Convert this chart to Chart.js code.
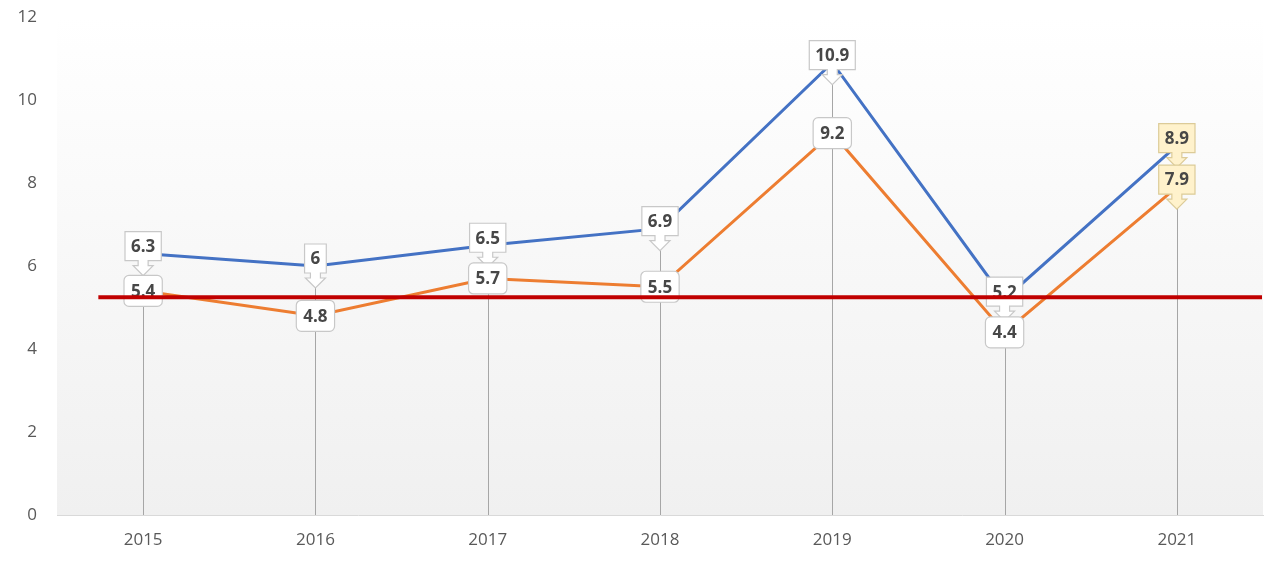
<!DOCTYPE html>
<html>
<head>
<meta charset="utf-8">
<script src="https://cdn.jsdelivr.net/npm/chart.js@4.4.1/dist/chart.umd.min.js"></script>
<style>
    body { margin: 0; background: #fff; }
</style>
</head>
<body>
<canvas id="lineCanvas" width="1280" height="563"></canvas>
<script>
var years = ["2015", "2016", "2017", "2018", "2019", "2020", "2021"];
var seriesBlue = [6.3, 6, 6.5, 6.9, 10.9, 5.2, 8.9];
var seriesOrange = [5.4, 4.8, 5.7, 5.5, 9.2, 4.4, 7.9];
var yTicks = [0, 2, 4, 6, 8, 10, 12];
var refLine = [5.25];
var highlightYears = ["2021"];

var labelFont = "bold 17px 'Open Sans'";

// callout box with arrow pointing down, whole shape centered on the point
function drawCallout(ctx, x, y, text, fill, stroke) {
    ctx.font = labelFont;
    var w = ctx.measureText(text).width + 12;
    var boxH = 29, shaft = 5, head = 10, sw = 5, hw = 10;
    var top = y - (boxH + shaft + head) / 2;
    var l = x - w / 2, r = x + w / 2, b = top + boxH;
    ctx.beginPath();
    ctx.moveTo(l, top);
    ctx.lineTo(r, top);
    ctx.lineTo(r, b);
    ctx.lineTo(x + sw, b);
    ctx.lineTo(x + sw, b + shaft);
    ctx.lineTo(x + hw, b + shaft);
    ctx.lineTo(x, b + shaft + head);
    ctx.lineTo(x - hw, b + shaft);
    ctx.lineTo(x - sw, b + shaft);
    ctx.lineTo(x - sw, b);
    ctx.lineTo(l, b);
    ctx.closePath();
    ctx.fillStyle = fill;
    ctx.fill();
    ctx.lineWidth = 1.2;
    ctx.strokeStyle = stroke;
    ctx.stroke();
    ctx.fillStyle = "#474747";
    ctx.textAlign = "center";
    ctx.textBaseline = "middle";
    ctx.fillText(text, x, top + boxH / 2 + 1);
}

function drawRoundBox(ctx, x, y, text) {
    ctx.font = labelFont;
    var w = ctx.measureText(text).width + 14;
    var h = 31, rad = 5;
    var l = x - w / 2, t = y - h / 2;
    ctx.beginPath();
    ctx.roundRect(l, t, w, h, rad);
    ctx.fillStyle = "#ffffff";
    ctx.fill();
    ctx.lineWidth = 1.2;
    ctx.strokeStyle = "#c8c8c8";
    ctx.stroke();
    ctx.fillStyle = "#474747";
    ctx.textAlign = "center";
    ctx.textBaseline = "middle";
    ctx.fillText(text, x, y + 1);
}

var decorPlugin = {
    id: "decor",
    beforeDraw: function(chart) {
        var ctx = chart.ctx, a = chart.chartArea;
        var grad = ctx.createLinearGradient(0, a.top, 0, a.bottom);
        grad.addColorStop(0, "#ffffff");
        grad.addColorStop(1, "#f0f0f0");
        ctx.save();
        ctx.fillStyle = grad;
        ctx.fillRect(a.left, a.top, a.right - a.left, a.bottom - a.top);
        ctx.restore();
    },
    beforeDatasetsDraw: function(chart) {
        // drop lines from highest point to the axis
        var ctx = chart.ctx, xs = chart.scales.x, ys = chart.scales.y;
        ctx.save();
        ctx.strokeStyle = "#a6a6a6";
        ctx.lineWidth = 1;
        for (var i = 0; i < years.length; i++) {
            var x = Math.round(xs.getPixelForValue(i)) + 0.5;
            var top = ys.getPixelForValue(Math.max(seriesBlue[i], seriesOrange[i]));
            ctx.beginPath();
            ctx.moveTo(x, top);
            ctx.lineTo(x, ys.getPixelForValue(0));
            ctx.stroke();
        }
        ctx.restore();
    },
    afterDatasetsDraw: function(chart) {
        var ctx = chart.ctx, xs = chart.scales.x, ys = chart.scales.y;
        ctx.save();
        for (var i = 0; i < years.length; i++) {
            var x = xs.getPixelForValue(i);
            var hot = highlightYears.indexOf(years[i]) >= 0;
            var fill = hot ? "#fff2cc" : "#ffffff";
            var stroke = hot ? "#dccb98" : "#c8c8c8";
            drawCallout(ctx, x, ys.getPixelForValue(seriesBlue[i]), String(seriesBlue[i]), fill, stroke);
            if (hot) {
                drawCallout(ctx, x, ys.getPixelForValue(seriesOrange[i]), String(seriesOrange[i]), fill, stroke);
            } else {
                drawRoundBox(ctx, x, ys.getPixelForValue(seriesOrange[i]), String(seriesOrange[i]));
            }
        }
        // red reference line
        var ry = ys.getPixelForValue(refLine[0]);
        var step = xs.getPixelForValue(1) - xs.getPixelForValue(0);
        ctx.strokeStyle = "#c00000";
        ctx.lineWidth = 4;
        ctx.beginPath();
        ctx.moveTo(xs.getPixelForValue(0) - step * 0.26, ry);
        ctx.lineTo(chart.chartArea.right - 1, ry);
        ctx.stroke();
        ctx.restore();
    }
};

var ctx = document.getElementById("lineCanvas");
var lineChart = new Chart(ctx, {
    type: "line",
    data: {
        labels: years,
        datasets: [{
            data: seriesBlue,
            borderColor: "#4472c4",
            borderWidth: 3,
            pointRadius: 0,
            tension: 0
        }, {
            data: seriesOrange,
            borderColor: "#ed7d31",
            borderWidth: 3,
            pointRadius: 0,
            tension: 0
        }]
    },
    options: {
        responsive: false,
        animation: false,
        layout: {
            autoPadding: false,
            padding: { top: 17, right: 17, left: 0, bottom: 0 }
        },
        plugins: {
            legend: { display: false },
            tooltip: { enabled: false }
        },
        scales: {
            x: {
                offset: true,
                grid: { display: false, drawTicks: false },
                border: { color: "#d9d9d9", width: 1 },
                ticks: {
                    color: "#595959",
                    font: { family: "'Open Sans'", size: 17 },
                    padding: 15,
                    maxRotation: 0
                },
                afterFit: function(scale) {
                    scale.height = 48;
                    scale.paddingLeft = 0;
                    scale.paddingRight = 0;
                }
            },
            y: {
                min: yTicks[0],
                max: yTicks[yTicks.length - 1],
                grid: { display: false, drawTicks: false },
                border: { display: false },
                ticks: {
                    stepSize: yTicks[1] - yTicks[0],
                    color: "#595959",
                    font: { family: "'Open Sans'", size: 17 },
                    padding: 20
                },
                afterFit: function(scale) {
                    scale.width = 57;
                    scale.paddingTop = 0;
                    scale.paddingBottom = 0;
                }
            }
        }
    },
    plugins: [decorPlugin]
});
</script>
</body>
</html>
